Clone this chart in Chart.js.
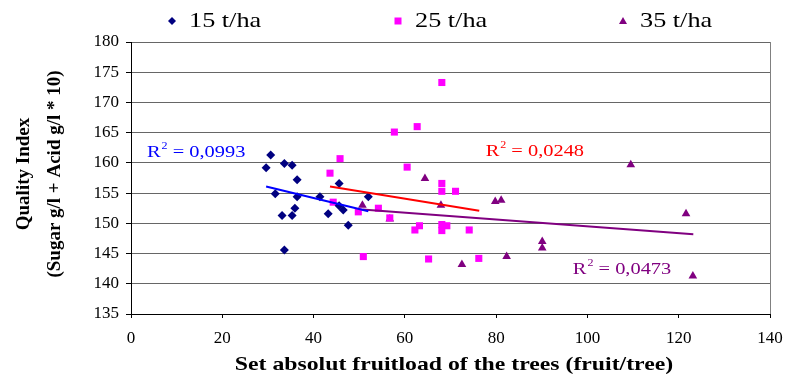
<!DOCTYPE html>
<html>
<head>
<meta charset="utf-8">
<script src="https://cdn.jsdelivr.net/npm/chart.js@4/dist/chart.umd.min.js"></script>
<style>
	html, body { margin: 0; padding: 0; background: #fff; }
</style>
</head>
<body>
<canvas id="calidad" width="786" height="376"></canvas>
<script>
const series = ['15 t/ha', '25 t/ha', '35 t/ha']

const x15 = [30.6, 29.6, 33.6, 35.3, 36.4, 31.6, 36.4, 41.4, 45.6, 35.9, 33.1, 35.3, 43.2, 45.6, 46.5, 47.6, 33.6, 52.0]
const y15 = [161.3, 159.2, 159.9, 159.6, 157.2, 154.9, 154.4, 154.4, 156.6, 152.5, 151.3, 151.3, 151.6, 152.9, 152.2, 149.7, 145.6, 154.4]

const x25 = [68.1, 57.7, 62.7, 45.8, 60.5, 43.6, 68.1, 68.1, 71.1, 44.3, 54.2, 49.8, 56.7, 63.2, 62.2, 68.1, 69.2, 68.1, 74.1, 50.9, 65.2, 76.2]
const y25 = [173.3, 165.1, 166.0, 160.7, 159.3, 158.3, 156.6, 155.3, 155.3, 153.5, 152.5, 151.9, 150.9, 149.6, 148.9, 149.8, 149.6, 148.8, 148.9, 144.5, 144.1, 144.2]

const x35 = [50.7, 56.7, 64.4, 67.9, 72.5, 79.8, 81.1, 82.3, 90.1, 90.1, 109.5, 121.6, 123.1]
const y35 = [153.0, 150.7, 157.4, 153.0, 143.2, 153.6, 153.8, 144.5, 147.0, 145.9, 159.7, 151.6, 141.3]

// lineas de tendencia (inicio y fin)
const tx15 = [29.6, 52.0]
const ty15 = [156.1, 152.0]
const tx25 = [43.6, 76.3]
const ty25 = [156.1, 152.1]
const tx35 = [50.7, 123.2]
const ty35 = [152.3, 148.2]

const r2Text = ['0,0993', '0,0248', '0,0473']
const r2X = [3.5, 77.7, 96.8]
const r2Y = [161.0, 161.1, 141.6]

const xTicks = [0, 20, 40, 60, 80, 100, 120, 140]
const yTicks = [135, 140, 145, 150, 155, 160, 165, 170, 175, 180]

const colores = ['#000080', '#ff00ff', '#800080']
const lineas = ['#0000ff', '#ff0000', '#800080']
const serif = "'Liberation Serif', 'Times New Roman', serif"

const puntos = (xs, ys) => xs.map((x, i) => ({ x: x, y: ys[i] }))

// el original esta estirado a lo ancho
const texto = (ctx, t, x, y, ancho) => {
	ctx.save()
	ctx.translate(x, y)
	ctx.scale(ancho, 1)
	ctx.fillText(t, 0, 0)
	ctx.restore()
	return ctx.measureText(t).width * ancho
}

const extras = {
	id: 'extras',
	afterDraw(chart) {
		const ctx = chart.ctx
		const a = chart.chartArea
		const sx = chart.scales.x
		const sy = chart.scales.y
		ctx.save()

		// borde derecho
		ctx.strokeStyle = '#808080'
		ctx.lineWidth = 1
		ctx.beginPath()
		ctx.moveTo(Math.round(a.right) + 0.5, a.top)
		ctx.lineTo(Math.round(a.right) + 0.5, a.bottom)
		ctx.stroke()

		// leyenda
		const legX = [172, 398, 623]
		ctx.font = '21px ' + serif
		ctx.textBaseline = 'alphabetic'
		ctx.textAlign = 'left'
		for (let i = 0; i < series.length; i++) {
			const cx = legX[i]
			const cy = 21
			ctx.fillStyle = colores[i]
			ctx.beginPath()
			if (i === 0) {
				ctx.moveTo(cx, cy - 4); ctx.lineTo(cx + 4, cy); ctx.lineTo(cx, cy + 4); ctx.lineTo(cx - 4, cy)
			} else if (i === 1) {
				ctx.rect(cx - 3.5, cy - 3.5, 7, 7)
			} else {
				ctx.moveTo(cx, cy - 4); ctx.lineTo(cx + 4, cy + 3); ctx.lineTo(cx - 4, cy + 3)
			}
			ctx.closePath()
			ctx.fill()
			ctx.fillStyle = '#000'
			texto(ctx, series[i], cx + 17, 27, 1.25)
		}

		// titulos de ejes
		ctx.fillStyle = '#000'
		ctx.font = 'bold 19px ' + serif
		ctx.textAlign = 'left'
		const w = ctx.measureText('Set absolut fruitload of the trees (fruit/tree)').width * 1.25
		texto(ctx, 'Set absolut fruitload of the trees (fruit/tree)', 454 - w / 2, 370, 1.25)

		ctx.save()
		ctx.translate(24, 174)
		ctx.rotate(-Math.PI / 2)
		ctx.textAlign = 'center'
		ctx.textBaseline = 'middle'
		ctx.font = 'bold 19px ' + serif
		ctx.fillText('Quality Index', 0, 0)
		ctx.fillText('(Sugar g/l + Acid g/l * 10)', 0, 31)
		ctx.restore()

		// R cuadrado
		ctx.textAlign = 'left'
		ctx.textBaseline = 'alphabetic'
		for (let i = 0; i < r2Text.length; i++) {
			let px = sx.getPixelForValue(r2X[i])
			const py = sy.getPixelForValue(r2Y[i])
			ctx.fillStyle = lineas[i]
			ctx.font = '17px ' + serif
			px += texto(ctx, 'R', px, py, 1.2)
			ctx.font = '10px ' + serif
			px += texto(ctx, '2', px + 1, py - 8, 1.2) + 1
			ctx.font = '17px ' + serif
			texto(ctx, ' = ' + r2Text[i], px, py, 1.2)
		}
		ctx.restore()
	}
}

const grafico = () => {
	const lienzo = document.getElementById('calidad').getContext('2d')

	const forma = ['rectRot', 'rect', 'triangle']
	const radio = [4.5, 5, 5]
	const xs = [x15, x25, x35]
	const ys = [y15, y25, y35]
	const txs = [tx15, tx25, tx35]
	const tys = [ty15, ty25, ty35]

	const datasets = []
	for (let i = 0; i < series.length; i++) {
		datasets.push({
			label: series[i],
			data: puntos(xs[i], ys[i]),
			pointStyle: forma[i],
			pointRadius: radio[i],
			backgroundColor: colores[i],
			borderColor: colores[i],
			borderWidth: 0,
			order: 1
		})
	}
	for (let i = 0; i < series.length; i++) {
		datasets.push({
			label: 'Lineal (' + series[i] + ')',
			data: puntos(txs[i], tys[i]),
			showLine: true,
			pointRadius: 0,
			borderColor: lineas[i],
			borderWidth: 2,
			order: 0
		})
	}

	const chart = new Chart(lienzo, {
		type: 'scatter',
		data: { datasets: datasets },
		options: {
			responsive: false,
			animation: false,
			devicePixelRatio: 1,
			layout: { padding: { top: 42, right: 16, left: 0, bottom: 0 } },
			plugins: {
				legend: { display: false },
				tooltip: { enabled: false }
			},
			scales: {
				x: {
					type: 'linear',
					min: 0,
					max: 140,
					afterBuildTicks: (s) => { s.ticks = xTicks.map(v => ({ value: v })) },
					afterFit: (s) => { s.height = 62; s.paddingLeft = 0; s.paddingRight = 0 },
					grid: { drawOnChartArea: false, drawTicks: true, tickLength: 4, color: '#000' },
					border: { color: '#000', width: 1 },
					ticks: { color: '#000', padding: 10, font: { family: serif, size: 17 } }
				},
				y: {
					type: 'linear',
					min: 135,
					max: 180,
					afterBuildTicks: (s) => { s.ticks = yTicks.map(v => ({ value: v })) },
					afterFit: (s) => { s.width = 131; s.paddingTop = 0; s.paddingBottom = 0 },
					grid: { color: '#666', lineWidth: 1, tickLength: 5, tickColor: '#000' },
					border: { color: '#000', width: 1 },
					ticks: { color: '#000', padding: 7, font: { family: serif, size: 17 } }
				}
			}
		},
		plugins: [extras]
	})
}

window.addEventListener('load', grafico)
</script>
</body>
</html>
